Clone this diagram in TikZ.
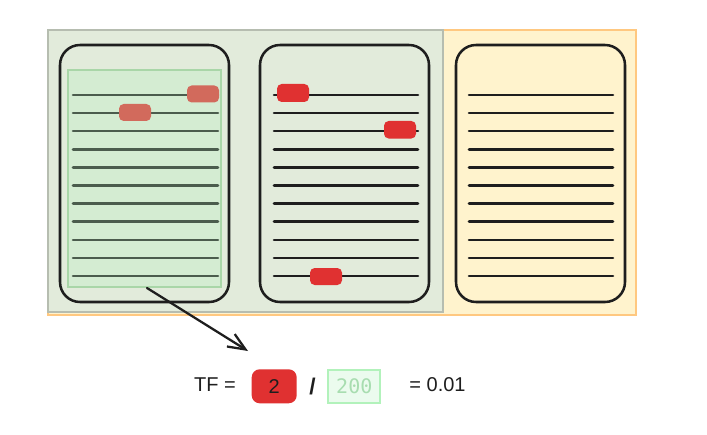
\documentclass[tikz,border=0pt]{standalone}
\usepackage{fontspec}
\setmainfont{Liberation Sans}
\newfontfamily\codefont{DejaVu Sans Mono}
\usetikzlibrary{arrows.meta}
\definecolor{yellowfill}{HTML}{FFF3CD}
\definecolor{orangeborder}{HTML}{FFC880}
\definecolor{overlayfill}{HTML}{E2EBDB}
\definecolor{overlayborder}{HTML}{B6BDB0}
\definecolor{hlfill}{HTML}{D4ECD2}
\definecolor{hlborder}{HTML}{A9D6A8}
\definecolor{ink}{HTML}{1E1E1E}
\definecolor{dimink}{HTML}{4B5C4D}
\definecolor{markred}{HTML}{E03131}
\definecolor{dimred}{HTML}{D26A5C}
\definecolor{codefill}{HTML}{EBFBEE}
\definecolor{codeborder}{HTML}{B2F2BB}
\definecolor{codetext}{HTML}{A8DDB0}
\tikzset{
  docbox/.style={draw=ink, line width=1.9pt, rounded corners=15pt},
  docline/.style={draw=ink, line width=1.9pt, line cap=round},
  dimline/.style={draw=dimink, line width=1.9pt, line cap=round},
  redmark/.style={fill=markred, rounded corners=3.5pt},
  dimmark/.style={fill=dimred, rounded corners=3.5pt},
  formula/.style={font=\fontsize{15}{18}\selectfont, text=ink, inner sep=0pt},
}
\begin{document}
\begin{tikzpicture}[x=0.75pt,y=-0.75pt]
\useasboundingbox (0,0) rectangle (707,435);
\fill[white] (0,0) rectangle (707,435);
% background regions
\draw[draw=orangeborder, fill=yellowfill, line width=1.5pt] (48,30) rectangle (636,315);
\draw[draw=overlayborder, fill=overlayfill, line width=1.5pt] (48,30) rectangle (443,312);
% document 1
\draw[docbox] (60,45) rectangle (229,302);
\draw[draw=hlborder, fill=hlfill, line width=1.5pt] (68,70) rectangle (221,287);
\foreach \i in {0,...,10} \draw[dimline] (73,{95+18.1*\i}) -- (218,{95+18.1*\i});
\fill[dimmark] (187,85.5) rectangle (219,102.5);
\fill[dimmark] (119,104) rectangle (151,121);
% document 2
\draw[docbox] (260,45) rectangle (429,302);
\foreach \i in {0,...,10} \draw[docline] (274,{95+18.1*\i}) -- (418,{95+18.1*\i});
\fill[redmark] (277,84) rectangle (309,102);
\fill[redmark] (384,121) rectangle (416,138.5);
\fill[redmark] (310,268) rectangle (342,285);
% document 3
\draw[docbox] (456,45) rectangle (625,302);
\foreach \i in {0,...,10} \draw[docline] (469,{95+18.1*\i}) -- (613,{95+18.1*\i});
% arrow
\coordinate (arrowstart) at (147,288);
\coordinate (arrowend) at (248,351);
\draw[ink, line width=1.7pt, line cap=round, -{Straight Barb[length=13pt,width=11pt,line width=1.7pt]}] (arrowstart) -- (arrowend);
% formula
\node[formula] (tf) at (215,385) {TF =};
\node[fill=markred, rounded corners=6pt, minimum width=45*0.75pt, minimum height=34*0.75pt, inner sep=0pt, formula] (num) at (274.2,386.3) {2};
\node[formula, font=\bfseries\fontsize{17}{20}\selectfont] (slash) at (312.5,387) {/};
\node[draw=codeborder, fill=codefill, line width=1.5pt, minimum width=52*0.75pt, minimum height=33*0.75pt, inner sep=0pt, text=codetext, font=\codefont\fontsize{15}{18}\selectfont] (den) at (354.3,386.2) {200};
\node[formula] (result) at (437.5,385) {= 0.01};
\end{tikzpicture}
\end{document}
